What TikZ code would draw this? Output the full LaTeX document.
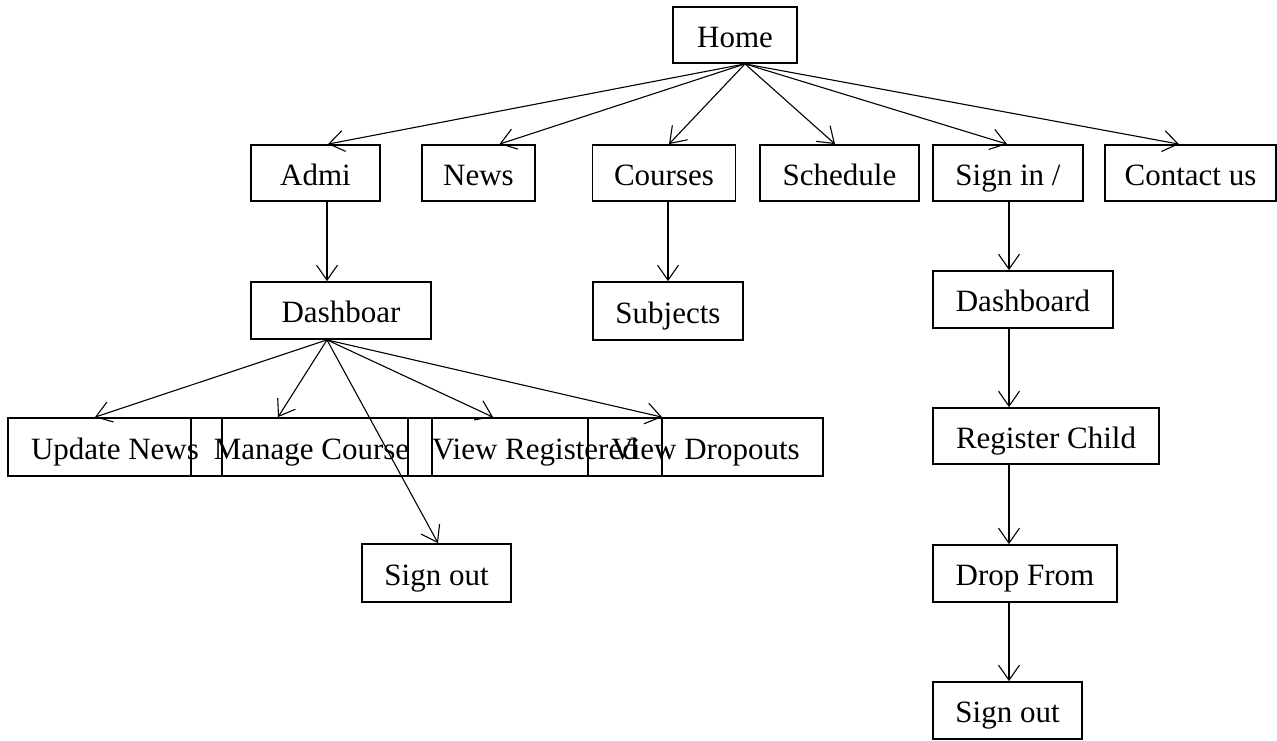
\documentclass[tikz,border=0pt]{standalone}
\usepackage{fontspec}
\setmainfont{Liberation Serif}
\usetikzlibrary{arrows.meta,calc}
\begin{document}
\begin{tikzpicture}[x=1pt,y=-1pt,
  box/.style={draw,line width=1.8pt,rectangle,inner sep=0pt,text height=24pt,text depth=0pt,font=\fontsize{31}{36}\selectfont},
  arr/.style={line width=1.1pt,-{Straight Barb[length=15pt,width=21pt,line width=1.1pt]}}]
\useasboundingbox (0,0) rectangle (1277,740);
% top
\node[box,minimum width=124pt,minimum height=56pt] (home) at (735,35) {Home};
% row 2
\node[box,minimum width=129pt,minimum height=56pt] (admi) at (315.5,173) {Admi};
\node[box,minimum width=113pt,minimum height=56pt] (news) at (478.5,173) {News};
\node[box,minimum width=143pt,minimum height=56pt] (courses) at (664,173) {Courses};
\node[box,minimum width=159pt,minimum height=56pt] (schedule) at (839.5,173) {Schedule};
\node[box,minimum width=150pt,minimum height=56pt] (signin) at (1008,173) {Sign in /};
\node[box,minimum width=171pt,minimum height=56pt] (contact) at (1190.5,173) {Contact us};
% row 3
\node[box,minimum width=180pt,minimum height=57pt] (dashL) at (341,310.5) {Dashboar};
\node[box,minimum width=150pt,minimum height=58pt] (subjects) at (668,311) {Subjects};
\node[box,minimum width=180pt,minimum height=57pt] (dashR) at (1023,299.5) {Dashboard};
% bottom row left
\node[box,minimum width=214pt,minimum height=58pt] (upnews) at (115,447) {Update News};
\node[box,minimum width=241pt,minimum height=58pt] (mancourse) at (311.5,447) {Manage Course};
\node[box,minimum width=254pt,minimum height=58pt] (viewreg) at (535,447) {View Registered};
\node[box,minimum width=235pt,minimum height=58pt] (viewdrop) at (705.5,447) {View Dropouts};
\node[box,minimum width=149pt,minimum height=58pt] (signoutL) at (436.5,573) {Sign out};
% right column
\node[box,minimum width=226pt,minimum height=56pt] (register) at (1046,436) {Register Child};
\node[box,minimum width=184pt,minimum height=57pt] (drop) at (1025,573.5) {Drop From};
\node[box,minimum width=149pt,minimum height=57pt] (signoutR) at (1007.5,710.5) {Sign out};
% arrows from Home
\draw[arr] ($(home.south)+(10,0)$) -- ($(admi.north)+(12.5,0)$);
\draw[arr] ($(home.south)+(10,0)$) -- ($(news.north)+(21,0)$);
\draw[arr] ($(home.south)+(10,0)$) -- ($(courses.north)+(5,0)$);
\draw[arr] ($(home.south)+(10,0)$) -- ($(schedule.north)+(-4.5,0)$);
\draw[arr] ($(home.south)+(10,0)$) -- ($(signin.north)+(-1,0)$);
\draw[arr] ($(home.south)+(10,0)$) -- ($(contact.north)+(-11.5,0)$);
% vertical arrows
\draw[arr] ($(admi.south)+(11.5,0)$) -- ($(dashL.north)+(-14,0)$);
\draw[arr] ($(courses.south)+(4,0)$) -- (subjects.north);
\draw[arr] ($(signin.south)+(1,0)$) -- ($(dashR.north)+(-14,0)$);
\draw[arr] ($(dashR.south)+(-14,0)$) -- ($(register.north)+(-37,0)$);
\draw[arr] ($(register.south)+(-37,0)$) -- ($(drop.north)+(-16,0)$);
\draw[arr] ($(drop.south)+(-16,0)$) -- ($(signoutR.north)+(1.5,0)$);
% arrows from left dashboard
\draw[arr] ($(dashL.south)+(-14,0)$) -- ($(upnews.north)+(-20,0)$);
\draw[arr] ($(dashL.south)+(-14,0)$) -- ($(mancourse.north)+(-33.5,0)$);
\draw[arr] ($(dashL.south)+(-14,0)$) -- ($(viewreg.north)+(-42,0)$);
\draw[arr] ($(dashL.south)+(-14,0)$) -- ($(viewdrop.north)+(-43.5,0)$);
\draw[arr] ($(dashL.south)+(-14,0)$) -- ($(signoutL.north)+(1.5,0)$);
\end{tikzpicture}
\end{document}
